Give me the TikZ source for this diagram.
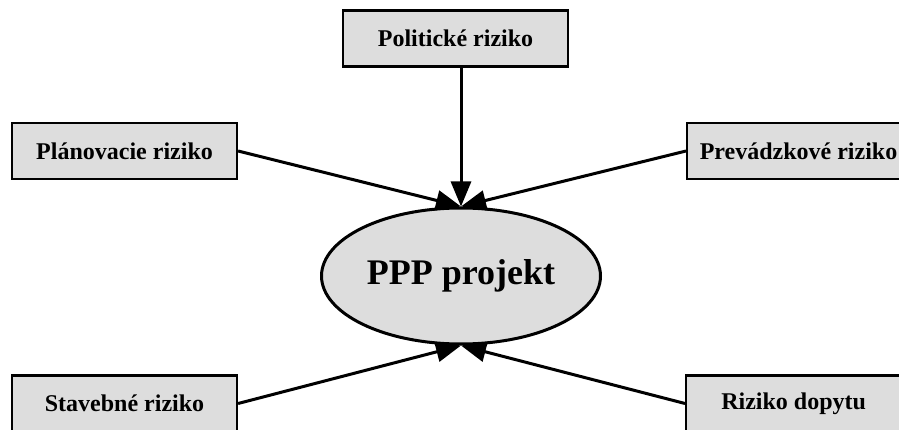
\documentclass[tikz,border=0pt]{standalone}
\usepackage{fontspec}
\setmainfont{Liberation Serif}
\usetikzlibrary{arrows.meta,shapes.geometric}

\definecolor{boxgray}{HTML}{DDDDDD}
\tikzset{
  boxfont/.style={font=\fontsize{24}{28}\selectfont\bfseries},
  riskbox/.style={draw=black, line width=2.2pt, fill=boxgray, inner sep=0pt,
    minimum width=225pt, minimum height=56pt, boxfont},
  project/.style={ellipse, draw=black, line width=3pt, fill=boxgray, inner sep=0pt,
    minimum width=279pt, minimum height=136pt,
    font=\fontsize{36}{40}\selectfont\bfseries},
  riskarrow/.style={line width=3pt, -{Triangle[length=25pt,width=20pt]}}
}

\begin{document}
\begin{tikzpicture}[x=1pt,y=-1pt]
  \useasboundingbox (0,0) rectangle (899,430);
  \clip (0,0) rectangle (899,430);

  % central project
  \node[project] (ppp) at (461,276) {PPP projekt};

  % risk boxes
  \node[riskbox] (polit) at (455.5,38.5) {Politické riziko};
  \node[riskbox] (plan)  at (124.5,151) {Plánovacie riziko};
  \node[riskbox, minimum width=240pt, anchor=west] (prev) at (686,151) {};
  \node[boxfont, inner sep=0pt] (prevtext) at (798.5,151) {Prevádzkové riziko};
  \node[riskbox] (stav)  at (124.5,403.5) {Stavebné riziko};
  \node[riskbox, anchor=west] (dop) at (685,403.5) {\hspace*{-10pt}Riziko dopytu};

  % arrows into the project
  \draw[riskarrow] (polit.south -| ppp.north) -- (ppp.north);
  \draw[riskarrow] (plan.east) -- (ppp.north);
  \draw[riskarrow] (prev.west) -- (ppp.north);
  \draw[riskarrow] (stav.east) -- (ppp.south);
  \draw[riskarrow] (dop.west) -- (ppp.south);
\end{tikzpicture}
\end{document}
